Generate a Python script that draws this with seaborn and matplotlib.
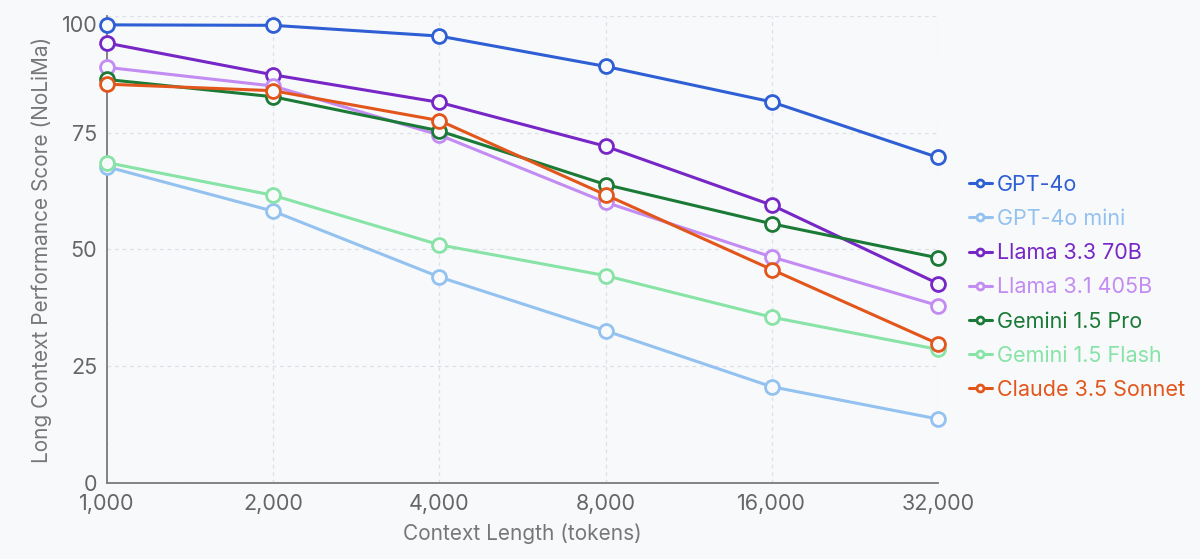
import numpy as np
import pandas as pd
import matplotlib
matplotlib.use("Agg")
import matplotlib.pyplot as plt
from matplotlib.ticker import FixedLocator, NullLocator
import seaborn as sns

# 数据
context_lengths = [1000, 2000, 4000, 8000, 16000, 32000]
tick_labels = ["1,000", "2,000", "4,000", "8,000", "16,000", "32,000"]

gpt4o = [98.1, 98.0, 95.7, 89.2, 81.6, 69.7]
gpt4o_mini = [67.7, 58.2, 44.1, 32.6, 20.6, 13.7]
llama33_70b = [94.2, 87.4, 81.5, 72.1, 59.5, 42.7]
llama31_405b = [89.0, 85.0, 74.5, 60.1, 48.4, 38.0]
gemini15_pro = [86.4, 82.7, 75.4, 63.9, 55.5, 48.2]
gemini15_flash = [68.6, 61.6, 51.0, 44.4, 35.5, 28.6]
claude35_sonnet = [85.4, 84.0, 77.6, 61.7, 45.7, 29.8]

models = ["GPT-4o", "GPT-4o mini", "Llama 3.3 70B", "Llama 3.1 405B",
          "Gemini 1.5 Pro", "Gemini 1.5 Flash", "Claude 3.5 Sonnet"]
scores = [gpt4o, gpt4o_mini, llama33_70b, llama31_405b,
          gemini15_pro, gemini15_flash, claude35_sonnet]
colors = ["#2f5fd4", "#94c2f0", "#7627c6", "#c28cf2",
          "#1b7a36", "#88e3a6", "#e2561b"]

rows = []
for m, s in zip(models, scores):
    for x, v in zip(context_lengths, s):
        rows.append({"context": x, "score": v, "model": m})
df = pd.DataFrame(rows)

bg = "#f8f9fb"
sns.set_style("white")
plt.rcParams["font.family"] = ["Inter", "DejaVu Sans"]

fig = plt.figure(figsize=(12, 5.59), dpi=100, facecolor=bg)
ax = fig.add_axes([0.0892, 0.136, 0.6925, 0.8354])
ax.set_facecolor(bg)

for m, c in zip(models, colors):
    sns.lineplot(data=df[df["model"] == m], x="context", y="score", ax=ax,
                 color=c, lw=2.2, marker="o", ms=10, mfc=bg, mec=c, mew=2.0,
                 label=m, clip_on=False, zorder=3)

ax.set_xscale("log", base=2)
ax.set_xlim(1000, 32000)
ax.set_ylim(0, 100)
ax.xaxis.set_major_locator(FixedLocator(context_lengths))
ax.xaxis.set_minor_locator(NullLocator())
ax.set_xticklabels(tick_labels)
ax.set_yticks([0, 25, 50, 75, 100])

ax.grid(True, ls=(0, (3, 3)), color="#dde1e6", lw=0.9, zorder=0)
for side in ["top", "right"]:
    ax.spines[side].set_visible(False)
for side in ["left", "bottom"]:
    ax.spines[side].set_color("#7a7a7a")
    ax.spines[side].set_linewidth(1.3)

ax.tick_params(axis="both", length=5, width=1, color="#7a7a7a",
               labelsize=15.5, labelcolor="#666666", pad=2, direction="out")
ax.tick_params(axis="x", pad=3)
for lab in ax.get_yticklabels():
    if lab.get_text() == "100":
        lab.set_verticalalignment("top")

ax.set_xlabel("Context Length (tokens)", fontsize=15, color="#777777", labelpad=7)
ax.set_ylabel("Long Context Performance Score (NoLiMa)", fontsize=15,
              color="#777777", labelpad=7)

ax.get_legend().remove()
handles, labels = ax.get_legend_handles_labels()
leg = fig.legend(handles, labels, loc="center left", bbox_to_anchor=(0.791, 0.486),
                 frameon=False, fontsize=15.5, labelcolor="linecolor",
                 handlelength=1.1, handletextpad=0.2, labelspacing=0.66,
                 markerscale=0.5)

fig.savefig("out.png", dpi=100, facecolor=bg)
